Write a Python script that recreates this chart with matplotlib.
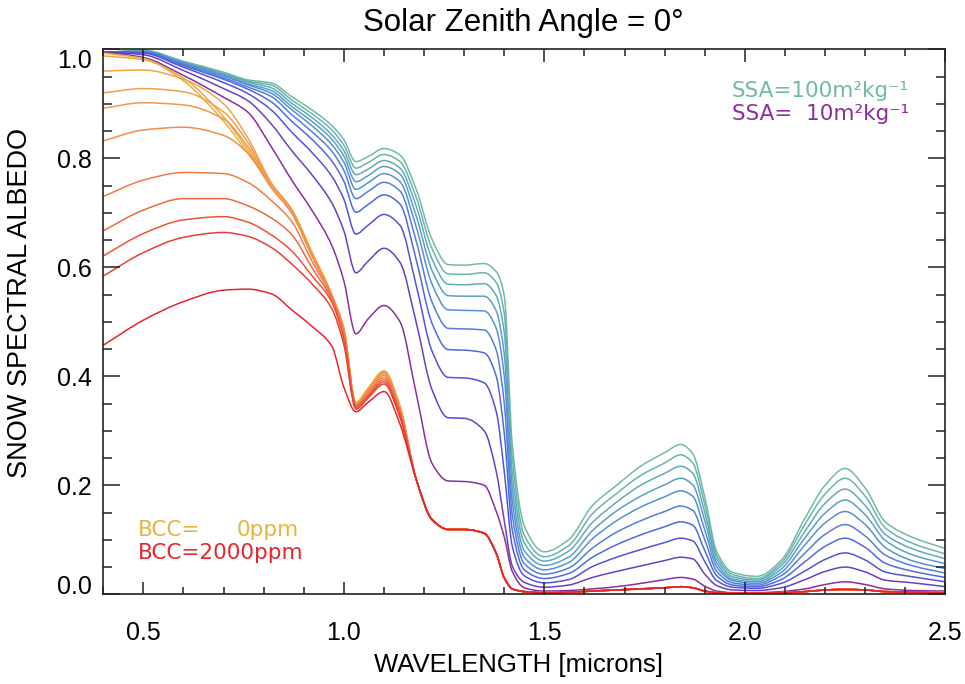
"""
Snow spectral albedo for a range of SSA and BC concentrations (SZA = 0).
"""

import numpy as np
import matplotlib
matplotlib.use('Agg')
import matplotlib.pyplot as plt
from matplotlib.path import Path
from matplotlib.patches import PathPatch
from matplotlib.ticker import MultipleLocator

# wavelength grid [microns]
wavelength = [0.40, 0.50, 0.60, 0.70, 0.76, 0.82, 0.87, 0.92, 0.97, 1.00,
              1.03, 1.06, 1.10, 1.14, 1.18, 1.22, 1.26, 1.30, 1.35, 1.38,
              1.40, 1.42, 1.45, 1.50, 1.56, 1.62, 1.68, 1.74, 1.80, 1.84,
              1.87, 1.90, 1.93, 1.97, 2.03, 2.09, 2.15, 2.20, 2.25, 2.30,
              2.35, 2.42, 2.50]

# clean snow, SSA = 100 ... 10 m2/kg
ssa_100 = [.994, .998, .978, .958, .944, .938, .913, .889, .860, .834,
           .794, .803, .818, .806, .744, .651, .605, .604, .607, .592,
           .548, .275, .125, .078, .100, .163, .200, .235, .260, .275,
           .258, .178, .078, .040, .033, .062, .140, .200, .231, .195,
           .133, .104, .084]
ssa_90 = [.994, .998, .977, .956, .942, .934, .907, .882, .852, .824,
          .782, .792, .807, .794, .729, .634, .588, .587, .590, .572,
          .515, .250, .108, .069, .089, .148, .185, .218, .241, .256,
          .241, .165, .071, .036, .029, .057, .129, .184, .213, .180,
          .122, .093, .074]
ssa_80 = [.994, .997, .976, .955, .940, .929, .901, .875, .843, .814,
          .770, .780, .796, .782, .713, .615, .569, .568, .570, .548,
          .480, .222, .094, .061, .079, .132, .169, .200, .222, .235,
          .222, .150, .064, .032, .026, .052, .116, .167, .193, .163,
          .110, .083, .065]
ssa_70 = [.994, .996, .975, .953, .937, .924, .895, .868, .835, .804,
          .757, .768, .785, .771, .695, .594, .548, .547, .547, .520,
          .440, .195, .080, .053, .068, .117, .153, .180, .201, .213,
          .201, .135, .057, .028, .023, .046, .104, .149, .173, .146,
          .099, .072, .056]
ssa_60 = [.995, .996, .974, .951, .935, .919, .889, .860, .825, .793,
          .743, .755, .772, .757, .675, .569, .522, .521, .520, .488,
          .400, .170, .068, .045, .058, .102, .135, .160, .179, .190,
          .180, .118, .050, .025, .020, .040, .091, .131, .152, .128,
          .086, .061, .047]
ssa_50 = [.995, .995, .972, .948, .931, .913, .880, .849, .813, .778,
          .726, .739, .756, .740, .649, .536, .488, .487, .485, .448,
          .350, .145, .056, .037, .048, .085, .114, .135, .152, .162,
          .154, .100, .042, .021, .017, .034, .076, .110, .128, .107,
          .072, .052, .039]
ssa_40 = [.995, .994, .970, .945, .927, .903, .868, .835, .795, .758,
          .701, .715, .733, .716, .615, .497, .449, .448, .443, .400,
          .295, .118, .045, .029, .038, .068, .091, .109, .124, .133,
          .127, .080, .034, .017, .014, .027, .060, .088, .103, .086,
          .057, .042, .031]
ssa_30 = [.995, .993, .967, .939, .919, .888, .848, .811, .767, .725,
          .661, .677, .697, .677, .568, .446, .398, .397, .388, .335,
          .225, .088, .034, .021, .027, .051, .068, .082, .095, .103,
          .098, .060, .025, .013, .011, .020, .043, .064, .076, .063,
          .041, .032, .023]
ssa_20 = [.995, .990, .961, .928, .906, .862, .814, .770, .718, .667,
          .590, .611, .635, .609, .500, .375, .324, .323, .300, .225,
          .135, .052, .022, .013, .017, .031, .042, .052, .062, .068,
          .065, .037, .016, .008, .007, .012, .027, .042, .050, .041,
          .026, .021, .014]
ssa_10 = [.995, .985, .952, .912, .885, .820, .760, .705, .640, .575,
          .478, .505, .530, .500, .370, .240, .208, .207, .200, .152,
          .105, .042, .012, .006, .007, .010, .014, .020, .027, .031,
          .028, .015, .006, .003, .003, .005, .010, .018, .023, .018,
          .010, .007, .006]

# BC-loaded snow, 0.40-1.14 microns (BCC = 0 ... 2000 ppm)
bcc_0 = [.993, .983, .942, .868, .810, .750, .705, .628, .550, .488, .352, .378, .410, .345]
bcc_1 = [.988, .981, .947, .876, .816, .752, .706, .628, .550, .487, .351, .377, .409, .344]
bcc_2 = [.960, .962, .945, .900, .838, .754, .706, .627, .549, .486, .350, .376, .408, .343]
bcc_3 = [.920, .928, .922, .885, .830, .752, .705, .626, .548, .485, .349, .375, .407, .342]
bcc_4 = [.892, .902, .898, .872, .822, .750, .703, .624, .547, .484, .349, .374, .405, .341]
bcc_5 = [.832, .852, .857, .842, .810, .745, .699, .621, .546, .482, .348, .372, .402, .339]
bcc_6 = [.730, .760, .774, .772, .756, .722, .684, .612, .544, .478, .347, .369, .398, .336]
bcc_7 = [.667, .705, .726, .726, .713, .690, .660, .600, .540, .472, .345, .366, .394, .332]
bcc_8 = [.621, .662, .687, .693, .683, .659, .630, .585, .536, .468, .343, .363, .390, .328]
bcc_9 = [.584, .627, .655, .664, .657, .636, .606, .570, .524, .458, .340, .360, .386, .324]
bcc_2000 = [.457, .503, .537, .558, .560, .551, .522, .492, .455, .380, .335, .352, .372, .312]
# 1.18-2.50 microns: the BC curves coincide there
bcc_tail = [.212, .137, .119, .119, .112, .075, .030, .010, .005, .003,
            .004, .006, .008, .010, .012, .014, .012, .006, .003, .002,
            .002, .003, .005, .008, .009, .008, .005, .004, .003]

ssa_curves = [ssa_100, ssa_90, ssa_80, ssa_70, ssa_60,
              ssa_50, ssa_40, ssa_30, ssa_20, ssa_10]
bcc_curves = [bcc_0, bcc_1, bcc_2, bcc_3, bcc_4, bcc_5,
              bcc_6, bcc_7, bcc_8, bcc_9, bcc_2000]

ssa_colors = ['#72bba0', '#69b4ad', '#61aabb', '#5b9ec8', '#5690d4',
              '#527edc', '#4f69e0', '#5252dc', '#6840c8', '#8a2f9c']
bcc_colors = ['#e6b440', '#e9ad42', '#eea647', '#f29e4b', '#f4964b',
              '#f48b4a', '#f27b46', '#ef6840', '#ec523a', '#ea3f34',
              '#e6262c']


def smooth_line(ax, x, y, color, lw=1.1):
    """Draw the points joined by a monotone cubic Bezier path."""
    x = np.asarray(x, float)
    y = np.asarray(y, float)
    h = np.diff(x)
    d = np.diff(y) / h
    m = np.zeros_like(y)
    m[0], m[-1] = d[0], d[-1]
    for i in range(1, len(y) - 1):
        if d[i - 1] * d[i] > 0:
            w1 = 2 * h[i] + h[i - 1]
            w2 = h[i] + 2 * h[i - 1]
            m[i] = (w1 + w2) / (w1 / d[i - 1] + w2 / d[i])
    verts = [(x[0], y[0])]
    codes = [Path.MOVETO]
    for i in range(len(h)):
        verts += [(x[i] + h[i] / 3, y[i] + m[i] * h[i] / 3),
                  (x[i + 1] - h[i] / 3, y[i + 1] - m[i + 1] * h[i] / 3),
                  (x[i + 1], y[i + 1])]
        codes += [Path.CURVE4] * 3
    ax.add_patch(PathPatch(Path(verts, codes), fill=False, edgecolor=color,
                           lw=lw, capstyle='round', joinstyle='round'))


plt.rcParams['font.family'] = ['Liberation Sans', 'DejaVu Sans']

fig = plt.figure(figsize=(9.65, 6.84), dpi=100)
ax = fig.add_axes([0.1070, 0.1311, 0.8727, 0.7968])

for vals, col in zip(ssa_curves, ssa_colors):
    smooth_line(ax, wavelength, vals, col)
for vals, col in zip(bcc_curves, bcc_colors):
    smooth_line(ax, wavelength, vals + bcc_tail, col)

ax.set_xlim(0.4, 2.5)
ax.set_ylim(0.0, 1.0)

ax.xaxis.set_major_locator(MultipleLocator(0.5))
ax.xaxis.set_minor_locator(MultipleLocator(0.1))
ax.yaxis.set_major_locator(MultipleLocator(0.2))
ax.yaxis.set_minor_locator(MultipleLocator(0.05))
ax.tick_params(which='both', direction='in', top=True, right=True,
               width=1.1, colors='#222222', labelcolor='black')
ax.tick_params(axis='x', which='major', length=9, pad=19, labelsize=18)
ax.tick_params(axis='x', which='minor', length=5)
ax.tick_params(axis='y', which='major', length=12.5, pad=8, labelsize=18)
ax.tick_params(axis='y', which='minor', length=6.5)
for sp in ax.spines.values():
    sp.set_linewidth(1.2)
    sp.set_color('#222222')

# end labels of the y axis are kept inside the axis range
ax.set_yticks([0.0, 0.2, 0.4, 0.6, 0.8, 1.0])
ax.set_yticklabels(['0.0', '0.2', '0.4', '0.6', '0.8', '1.0'])
ylabels = ax.get_yticklabels()
ylabels[0].set_va('baseline')
ylabels[-1].set_va('top')

ax.set_xlabel('WAVELENGTH [microns]', fontsize=18.5)
ax.set_ylabel('SNOW SPECTRAL ALBEDO', fontsize=19.5)
ax.xaxis.set_label_coords(0.4925, -0.1085)
ax.yaxis.set_label_coords(-0.0835, 0.5345)

fig.text(0.542, 0.967, 'Solar Zenith Angle = 0°', ha='center', va='center',
         fontsize=22.5)

lab_font = ['DejaVu Sans']
ax.text(2.409, 0.912, 'SSA=100m²kg⁻¹', color=ssa_colors[0], ha='right',
        va='baseline', fontsize=15.5, family=lab_font)
ax.text(2.409, 0.870, 'SSA=  10m²kg⁻¹', color=ssa_colors[-1], ha='right',
        va='baseline', fontsize=15.5, family=lab_font)
ax.text(0.4865, 0.107, 'BCC=', color=bcc_colors[0], ha='left',
        va='baseline', fontsize=15.5, family=lab_font)
ax.text(0.733, 0.107, '0ppm', color=bcc_colors[0], ha='left',
        va='baseline', fontsize=15.5, family=lab_font)
ax.text(0.4865, 0.064, 'BCC=2000ppm', color=bcc_colors[-1], ha='left',
        va='baseline', fontsize=15.5, family=lab_font)

fig.savefig('out.png', dpi=100)
